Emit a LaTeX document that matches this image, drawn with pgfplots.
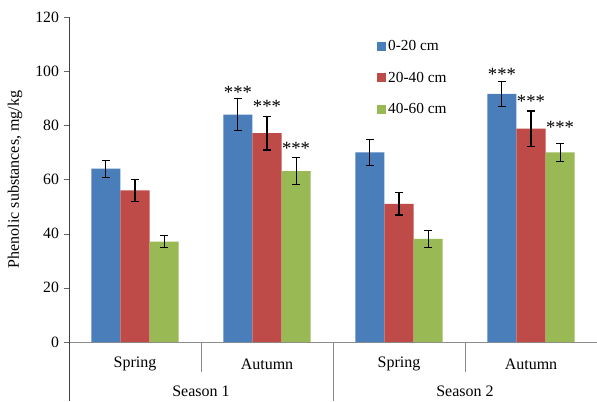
\documentclass[border=0pt]{standalone}
\usepackage{fontspec}
\setmainfont{Liberation Serif}
\usepackage{pgfplots}
\pgfplotsset{compat=1.18}
\definecolor{cblue}{HTML}{4A7EBB}
\definecolor{cred}{HTML}{BE4B48}
\definecolor{cgreen}{HTML}{98B954}
\begin{document}
\begin{tikzpicture}
\useasboundingbox (-51.75pt,-44.25pt) rectangle (396pt,256.5pt);
\begin{axis}[
  scale only axis, width=396pt, height=243.75pt,
  xmin=-0.5, xmax=3.5, ymin=0, ymax=120, ytick={0,20,...,120},
  axis x line=bottom, axis y line=left, axis line style={-},
  x axis line style={black!45},
  y axis line style={black!75},
  xtick=\empty,
  tick align=outside, major tick length=4pt,
  ytick style={black!60},
  ylabel={Phenolic substances, mg/kg},
  ylabel style={at={(axis description cs:-0.1023,0.5)}, anchor=center, font=\fontsize{12}{14}\selectfont},
  tick label style={font=\fontsize{11.8}{13}\selectfont},
  /pgf/number format/assume math mode=true,
  clip=false,
  ybar, bar width=0.22, bar shift=0pt,
  legend style={draw=none, fill=none, at={(0.575,0.945)}, anchor=north west,
    font=\fontsize{11.5}{13}\selectfont, row sep=10.5pt},
  legend cell align=left,
  legend image code/.code={\fill[#1] (0pt,-3pt) rectangle (6.5pt,3.5pt);},
  error bars/error bar style={black, line width=0.8pt},
  error bars/error mark options={black, mark size=3pt, line width=0.8pt, rotate=90},
]
\addplot[fill=cblue, draw=none, error bars/.cd, y dir=both, y explicit]
  coordinates {(-0.22,64) +- (0,3.1) (0.78,84) +- (0,6.0) (1.78,70) +- (0,4.7) (2.78,91.6) +- (0,4.6)};
\addplot[fill=cred, draw=none, error bars/.cd, y dir=both, y explicit]
  coordinates {(0,56) +- (0,4.0) (1,77.1) +- (0,6.2) (2,51) +- (0,4.1) (3,78.8) +- (0,6.5)};
\addplot[fill=cgreen, draw=none, error bars/.cd, y dir=both, y explicit]
  coordinates {(0.22,37.1) +- (0,2.2) (1.22,63.1) +- (0,4.9) (2.22,38.1) +- (0,3.1) (3.22,70) +- (0,3.4)};
\legend{0-20 cm, 20-40 cm, 40-60 cm}
\begin{scope}[every node/.style={font=\fontsize{14}{16}\selectfont}]
\node at (axis cs:0.78,92.0) {***};
\node at (axis cs:1.00,87.0) {***};
\node at (axis cs:1.22,71.5) {***};
\node at (axis cs:2.78,98.8) {***};
\node at (axis cs:3.00,88.7) {***};
\node at (axis cs:3.22,79.1) {***};
\end{scope}
% category separators
\draw[black!45] (axis cs:0.5,0) -- ([yshift=-22.5pt]axis cs:0.5,0);
\draw[black!45] (axis cs:2.5,0) -- ([yshift=-22.5pt]axis cs:2.5,0);
\draw[black!45] (axis cs:1.5,0) -- ([yshift=-44.25pt]axis cs:1.5,0);
\draw[black!75] (axis cs:-0.5,0) -- ([yshift=-44.25pt]axis cs:-0.5,0);
\begin{scope}[every node/.style={font=\fontsize{12}{14}\selectfont}]
\node at ([yshift=-16.5pt]axis cs:0,0) {Spring};
\node at ([yshift=-16.5pt]axis cs:1,0) {Autumn};
\node at ([yshift=-16.5pt]axis cs:2,0) {Spring};
\node at ([yshift=-16.5pt]axis cs:3,0) {Autumn};
\node at ([yshift=-37pt]axis cs:0.5,0) {Season 1};
\node at ([yshift=-37pt]axis cs:2.5,0) {Season 2};
\end{scope}
\end{axis}
\end{tikzpicture}
\end{document}
